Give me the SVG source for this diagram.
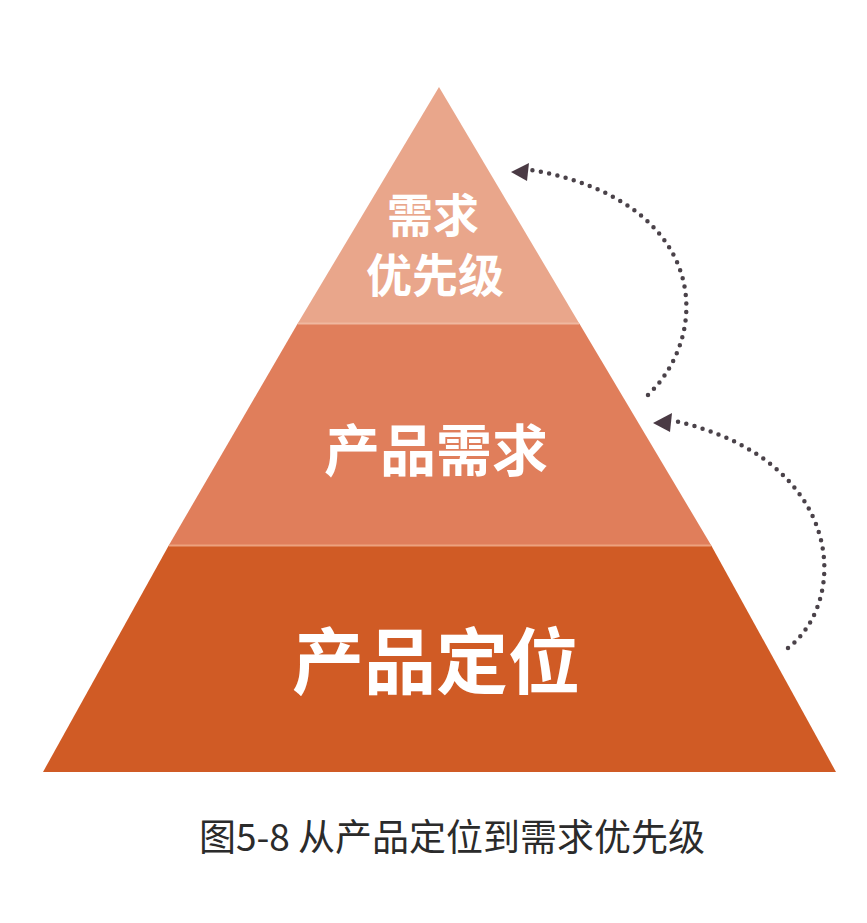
<svg xmlns="http://www.w3.org/2000/svg" width="867" height="923" viewBox="0 0 867 923">
<style>
.lbl{font-family:"Noto Sans CJK SC","Noto Sans",sans-serif;font-weight:bold;fill:#ffffff;text-anchor:middle}
.cap{font-family:"Noto Sans CJK SC","Noto Sans",sans-serif;fill:#2b2b2b;text-anchor:middle}
.dot{fill:none;stroke:#4a4249;stroke-width:4.5;stroke-linecap:round;stroke-dasharray:0 8.5}
.head{fill:#4a3a44}
</style>
<rect width="867" height="923" fill="#ffffff"/>
<g id="layer-top">
<polygon points="439,87 579,323 298,323" fill="#E9A68B"/>
<text class="lbl" x="433" y="232" font-size="46">需求</text>
<text class="lbl" x="435" y="292" font-size="46">优先级</text>
</g>
<g id="layer-middle">
<polygon points="298,323 579,323 711,545 169,545" fill="#E07E5B"/>
<line x1="298" y1="323.5" x2="579" y2="323.5" stroke="#F0B8A0" stroke-width="2"/>
<text class="lbl" x="436" y="471" font-size="56">产品需求</text>
</g>
<g id="layer-bottom">
<polygon points="169,545 711,545 836,772 43,772" fill="#D05B25"/>
<line x1="169" y1="545.5" x2="711" y2="545.5" stroke="#EDA27F" stroke-width="2"/>
<text class="lbl" x="436" y="688" font-size="72">产品定位</text>
</g>
<g id="connectors">
<path class="dot" d="M 648 395 C 715 330, 705 200, 531 170"/>
<polygon class="head" points="511,172 529,163 527,181"/>
<path class="dot" d="M 788 648 C 850 600, 845 460, 675 421"/>
<polygon class="head" points="653,423 672,413 670,432"/>
</g>
<g id="caption">
<text class="cap" x="452" y="851" font-size="37">图5-8 从产品定位到需求优先级</text>
</g>
</svg>
